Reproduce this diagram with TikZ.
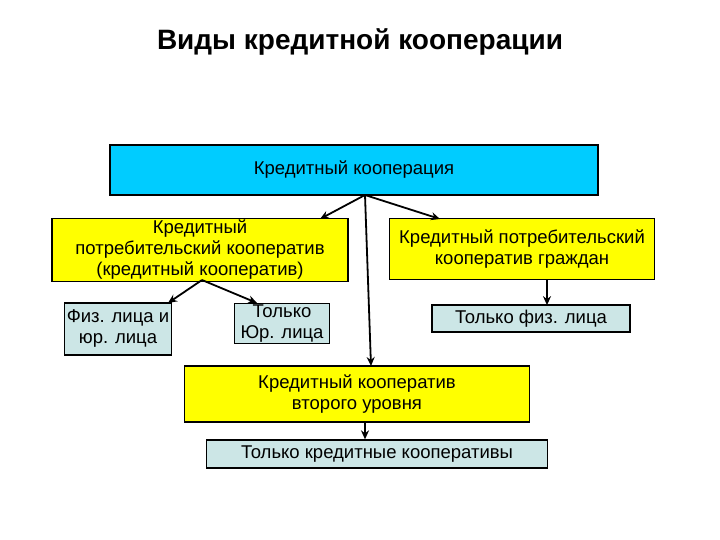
\documentclass[tikz,border=0pt]{standalone}
\usepackage{fontspec}
\setmainfont{Liberation Sans}
\usetikzlibrary{arrows.meta}
\definecolor{cy}{RGB}{0,204,255}
\definecolor{yl}{RGB}{255,255,0}
\definecolor{gb}{RGB}{204,230,230}
\begin{document}
\begin{tikzpicture}[x=1pt,y=-1pt,
 bx/.style={draw=black,line width=1.3pt,align=center,inner sep=0pt,font=\fontsize{18.5}{21}\selectfont},
 ar/.style={-{Stealth[length=9pt,width=8pt]},line width=1.8pt}]
\useasboundingbox (0,0) rectangle (720,540);
\node[font=\bfseries\fontsize{28}{32}\selectfont] (t) at (360,42) {Виды кредитной кооперации};
\node[bx,fill=cy,minimum width=488pt,minimum height=50pt] (top) at (354,170) {Кредитный кооперация};
\node[bx,fill=yl,minimum width=296pt,minimum height=63pt] (l) at (200,250) {Кредитный\\потребительский кооператив\\(кредитный кооператив)};
\node[bx,fill=yl,minimum width=265pt,minimum height=61pt] (r) at (522,249) {Кредитный потребительский\\кооператив граждан};
\node[bx,fill=gb,minimum width=107pt,minimum height=52pt] (a) at (118,329) {Физ. лица и\\юр. лица};
\node[bx,fill=gb,minimum width=95pt,minimum height=40pt,anchor=north] (b) at (282,303) {Только\\Юр. лица};
\node[bx,fill=gb,minimum width=198pt,minimum height=27pt] (c) at (531,318.5) {Только физ. лица};
\node[bx,fill=yl,minimum width=345pt,minimum height=56pt] (d) at (357,394) {Кредитный кооператив\\второго уровня};
\node[bx,fill=gb,minimum width=341pt,minimum height=28pt] (e) at (377,454) {Только кредитные кооперативы};
\coordinate (o) at (365,195);
\coordinate (o2) at (202,280);
\draw[ar] (o) -- (320,219);
\draw[ar] (o) -- (440,219);
\draw[ar] (o) -- (371,366);
\draw[ar] (o2) -- (168,303);
\draw[ar] (o2) -- (257,303);
\draw[ar] (r.south -| c.north) ++(16,0) -- ++(0,25);
\draw[ar] (d.south -| 365,0) -- (e.north -| 365,0);
\end{tikzpicture}
\end{document}
